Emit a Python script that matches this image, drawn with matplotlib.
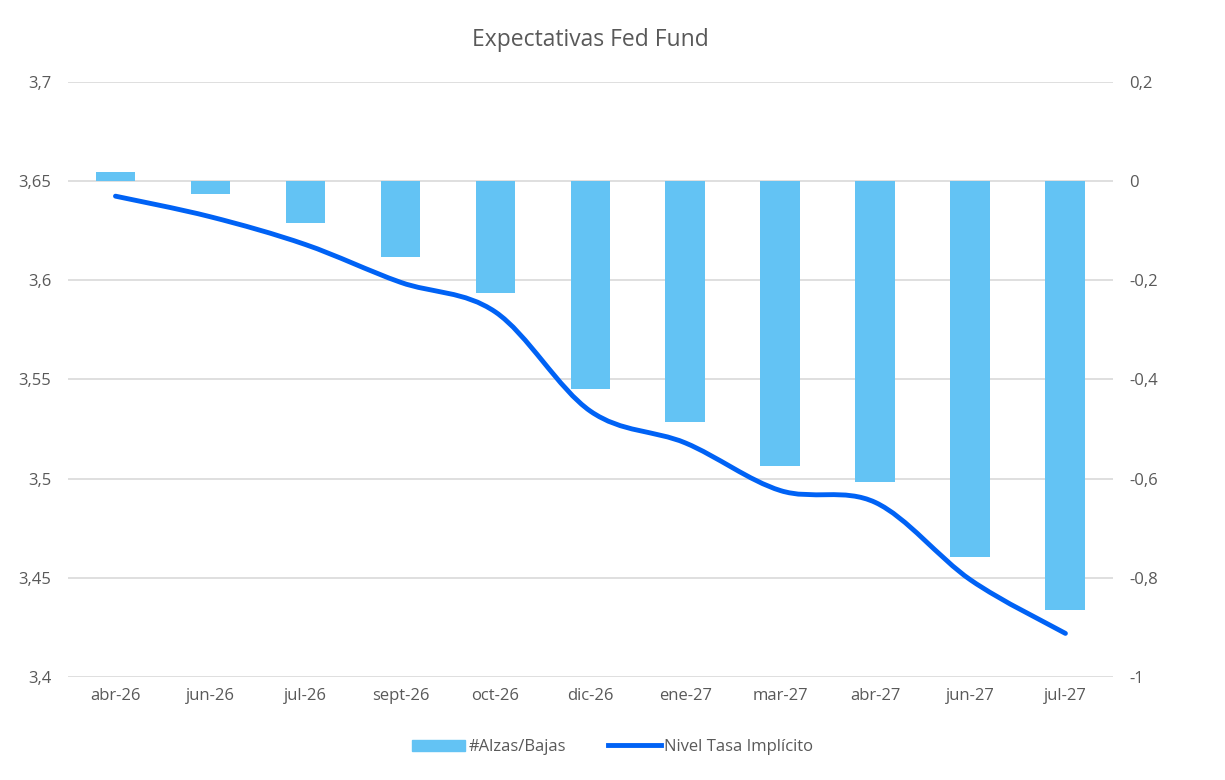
import numpy as np
import matplotlib.pyplot as plt
from matplotlib.path import Path
from matplotlib.patches import PathPatch
from matplotlib.ticker import FuncFormatter, MultipleLocator

meses = ['abr-26', 'jun-26', 'jul-26', 'sept-26', 'oct-26', 'dic-26',
         'ene-27', 'mar-27', 'abr-27', 'jun-27', 'jul-27']
alzas_bajas = [0.018, -0.026, -0.085, -0.154, -0.226, -0.42,
               -0.485, -0.574, -0.606, -0.758, -0.865]
nivel_tasa = [3.6424, 3.632, 3.618, 3.599, 3.584, 3.534,
              3.518, 3.494, 3.488, 3.449, 3.422]

gris = '#595959'
plt.rcParams['font.family'] = ['Open Sans', 'DejaVu Sans']

fig = plt.figure(figsize=(12.25, 7.8), dpi=100)
ax = fig.add_axes([0.0555, 0.132, 0.853, 0.763])
ax2 = ax.twinx()

x = np.arange(len(meses))

# barras en eje derecho
ax2.bar(x, alzas_bajas, width=0.42, color='#63C3F4', zorder=2,
        label='#Alzas/Bajas')
ax2.set_ylim(-1, 0.2)
ax2.yaxis.set_major_locator(MultipleLocator(0.2))

# linea suavizada (estilo excel) en eje izquierdo
def suavizar(xs, ys, t=1/6):
    verts = [(xs[0], ys[0])]
    codes = [Path.MOVETO]
    n = len(xs)
    for i in range(n - 1):
        x0, y0 = (xs[i-1], ys[i-1]) if i > 0 else (xs[i], ys[i])
        x3, y3 = (xs[i+2], ys[i+2]) if i + 2 < n else (xs[i+1], ys[i+1])
        c1 = (xs[i] + (xs[i+1] - x0) * t, ys[i] + (ys[i+1] - y0) * t)
        c2 = (xs[i+1] - (x3 - xs[i]) * t, ys[i+1] - (y3 - ys[i]) * t)
        verts += [c1, c2, (xs[i+1], ys[i+1])]
        codes += [Path.CURVE4] * 3
    return Path(verts, codes)

ax.add_patch(PathPatch(suavizar(list(x), nivel_tasa), fill=False,
                       edgecolor='#0062F5', lw=3.5, capstyle='round',
                       zorder=3))
ax.set_ylim(3.4, 3.7)
ax.yaxis.set_major_locator(MultipleLocator(0.05))
ax.set_xlim(-0.5, len(meses) - 0.5)
ax.set_xticks(x)
ax.set_xticklabels(meses)

ax.set_zorder(ax2.get_zorder() + 1)
ax.patch.set_visible(False)

coma = FuncFormatter(lambda v, p: ('%g' % round(v, 3)).replace('.', ','))
ax.yaxis.set_major_formatter(coma)
ax2.yaxis.set_major_formatter(coma)

ax2.grid(axis='y', color='#D9D9D9', lw=1.2, zorder=0)
ax2.set_axisbelow(True)

for a in (ax, ax2):
    for s in a.spines.values():
        s.set_visible(False)
    a.tick_params(length=0, colors=gris, labelsize=12, pad=8)

ax.tick_params(axis='y', pad=12)
ax2.tick_params(axis='y', pad=12)

ax.set_title('Expectativas Fed Fund', color=gris, fontsize=16.5, pad=26)

h1 = plt.Rectangle((0, 0), 1, 1, color='#63C3F4')
h2 = plt.Line2D([], [], color='#0062F5', lw=3.5)
fig.legend([h1, h2], ['#Alzas/Bajas', 'Nivel Tasa Implícito'],
           loc='center', bbox_to_anchor=(0.5, 0.042), ncol=2, frameon=False,
           fontsize=12, labelcolor=gris, handlelength=3.2,
           handletextpad=0.2, columnspacing=2.5)

plt.savefig('out.png', dpi=100)
